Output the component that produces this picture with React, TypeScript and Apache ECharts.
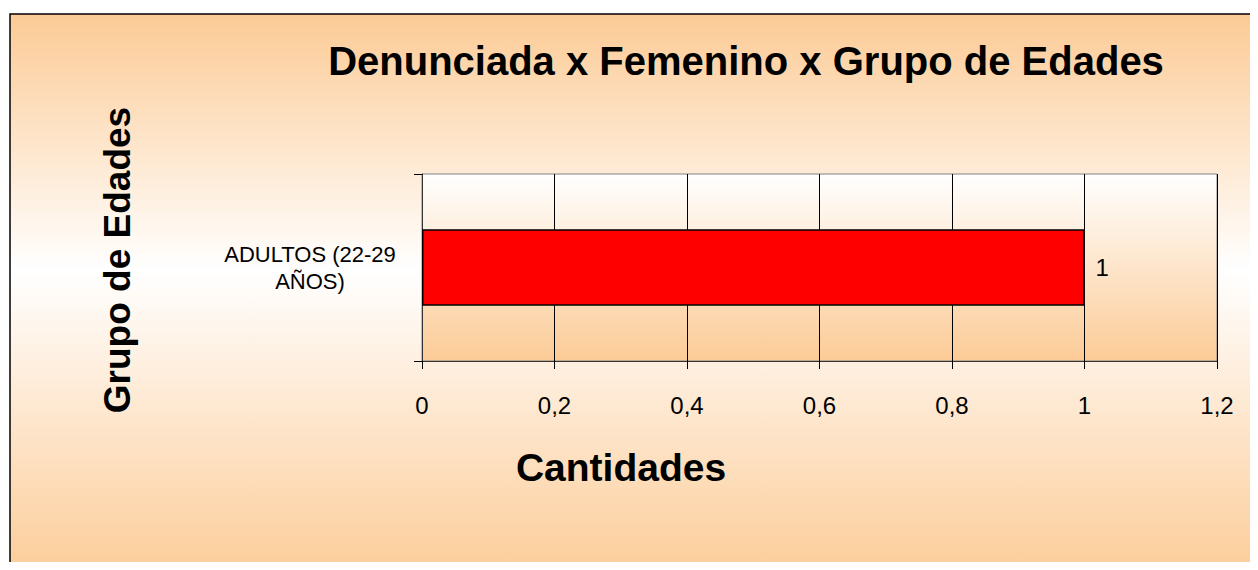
import React, { useEffect, useRef } from "react";
import * as echarts from "echarts";

const chartTitle = "Denunciada x Femenino x Grupo de Edades";
const xAxisTitle = "Cantidades";
const yAxisTitle = "Grupo de Edades";
const categories = ["ADULTOS (22-29 AÑOS)"];
const values = [1];
const xMin = 0;
const xMax = 1.2;
const xInterval = 0.2;

const PEACH = "#FCCB96";

export default function App() {
  const ref = useRef<HTMLDivElement>(null);
  useEffect(() => {
    if (!ref.current) return;
    const chart = echarts.init(ref.current, undefined, { renderer: "svg" });
    const font = "Liberation Sans, Arial, Helvetica, sans-serif";
    chart.setOption({
      animation: false,
      backgroundColor: "#ffffff",
      textStyle: { fontFamily: font },
      graphic: [
        {
          type: "rect",
          z: -10,
          silent: true,
          shape: { x: 10, y: 14, width: 1260, height: 570 },
          style: {
            fill: {
              type: "linear",
              x: 0,
              y: 0,
              x2: 0,
              y2: 1,
              colorStops: [
                { offset: 0, color: PEACH },
                { offset: 0.45, color: "#ffffff" },
                { offset: 1, color: PEACH },
              ],
            },
            stroke: "#000",
            lineWidth: 1.5,
          },
        },
        {
          type: "text",
          x: 746,
          y: 61,
          style: {
            text: chartTitle,
            font: `bold 40px ${font}`,
            fill: "#000",
            align: "center",
            verticalAlign: "middle",
          },
        },
        {
          type: "text",
          x: 621,
          y: 467,
          style: {
            text: xAxisTitle,
            font: `bold 39px ${font}`,
            fill: "#000",
            align: "center",
            verticalAlign: "middle",
          },
        },
        {
          type: "text",
          x: 117,
          y: 260,
          rotation: Math.PI / 2,
          style: {
            text: yAxisTitle,
            font: `bold 37px ${font}`,
            fill: "#000",
            align: "center",
            verticalAlign: "middle",
          },
        },
      ],
      grid: {
        left: 422,
        right: 41,
        top: 174,
        bottom: 209,
        show: true,
        borderColor: "#808080",
        borderWidth: 1,
        backgroundColor: {
          type: "linear",
          x: 0,
          y: 0,
          x2: 0,
          y2: 1,
          colorStops: [
            { offset: 0, color: "#ffffff" },
            { offset: 1, color: PEACH },
          ],
        },
      },
      xAxis: {
        type: "value",
        min: xMin,
        max: xMax,
        interval: xInterval,
        axisLine: { show: true, lineStyle: { color: "#333", width: 1 } },
        axisTick: { show: true, length: 8, lineStyle: { color: "#000" } },
        splitLine: { show: true, lineStyle: { color: "#000", width: 1 } },
        axisLabel: {
          color: "#000",
          fontSize: 24,
          margin: 32,
          fontFamily: font,
          formatter: (v: number) => String(Math.round(v * 10) / 10).replace(".", ","),
        },
      },
      yAxis: {
        type: "category",
        data: categories,
        axisLine: { show: true, lineStyle: { color: "#333", width: 1 } },
        axisTick: { show: true, length: 8, lineStyle: { color: "#000" } },
        axisLabel: {
          color: "#000",
          fontSize: 22,
          lineHeight: 27,
          margin: 112,
          align: "center",
          fontFamily: font,
          formatter: (v: string) => v.replace(" AÑOS", "\nAÑOS"),
        },
      },
      series: [
        {
          type: "bar",
          data: values,
          barWidth: "41%",
          itemStyle: { color: "#FF0000", borderColor: "#000", borderWidth: 1.5 },
          label: {
            show: true,
            position: "right",
            distance: 11,
            color: "#000",
            fontSize: 24,
            fontFamily: font,
          },
        },
      ],
    });
    return () => chart.dispose();
  }, []);
  return <div ref={ref} style={{ width: 1258, height: 570, margin: -8 }} />;
}
